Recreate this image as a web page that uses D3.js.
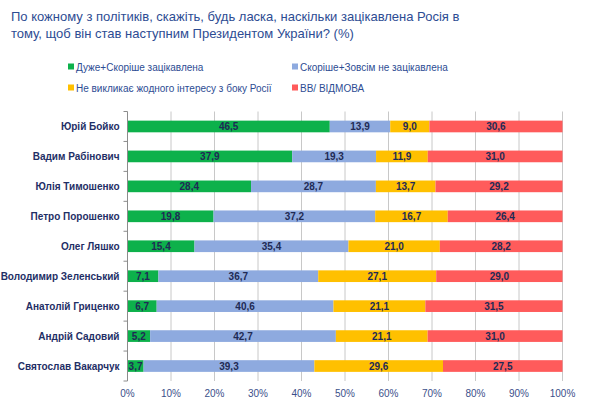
<!DOCTYPE html>
<html>
<head>
<meta charset="utf-8">
<script src="https://cdn.jsdelivr.net/npm/d3@7"></script>
<style>
  body { margin: 0; background: #fff; }
  svg { display: block; font-family: "Liberation Sans", Arial, sans-serif; }
</style>
</head>
<body>
<div id="chart"></div>
<script>
var names = ["Юрій Бойко", "Вадим Рабінович", "Юлія Тимошенко", "Петро Порошенко", "Олег Ляшко",
             "Володимир Зеленський", "Анатолій Гриценко", "Андрій Садовий", "Святослав Вакарчук"];
var interested    = [46.5, 37.9, 28.4, 19.8, 15.4, 7.1, 6.7, 5.2, 3.7];
var notInterested = [13.9, 19.3, 28.7, 37.2, 35.4, 36.7, 40.6, 42.7, 39.3];
var noInterest    = [9.0, 11.9, 13.7, 16.7, 21.0, 27.1, 21.1, 21.1, 29.6];
var refused       = [30.6, 31.0, 29.2, 26.4, 28.2, 29.0, 31.5, 31.0, 27.5];
var seriesNames = ["Дуже+Скоріше зацікавлена", "Скоріше+Зовсім не зацікавлена",
                   "Не викликає жодного інтересу з боку Росії", "ВВ/ ВІДМОВА"];
var xTicks = [0, 0.1, 0.2, 0.3, 0.4, 0.5, 0.6, 0.7, 0.8, 0.9, 1];
var titleLines = ["По кожному з політиків, скажіть, будь ласка, наскільки зацікавлена Росія в",
                  "тому, щоб він став наступним Президентом України? (%)"];

var colors = ["#0db14b", "#8eaadf", "#ffc000", "#ff5b5b"];
var keys = ["a", "b", "c", "d"];

var W = 600, H = 398;
var margin = {top: 111.5, left: 127.5, right: 37.5, bottom: 17},
    width  = W - margin.left - margin.right,
    height = H - margin.top - margin.bottom;

var table = names.map(function(n, i) {
  return {name: n, a: interested[i], b: notInterested[i], c: noInterest[i], d: refused[i]};
});

var stack = d3.stack().keys(keys).offset(d3.stackOffsetExpand);
var layers = stack(table);

var x = d3.scaleLinear().domain([0, 1]).range([0, width]);
var y = d3.scaleBand().domain(names).range([0, height]).paddingInner(0.61).paddingOuter(0.305);

var svg = d3.select("#chart").append("svg").attr("width", W).attr("height", H);

// title
svg.append("g").selectAll("text")
  .data(titleLines).enter().append("text")
    .attr("x", 11)
    .attr("y", function(d, i) { return 21 + i * 17; })
    .attr("fill", "#2d4c93")
    .style("font-size", "13px")
    .text(function(d) { return d; });

// legend
var legend = svg.append("g").selectAll("g")
  .data(seriesNames).enter().append("g")
    .attr("transform", function(d, i) {
      return "translate(" + (i % 2 ? 292 : 68) + "," + (i < 2 ? 67 : 88) + ")";
    });
legend.append("rect").attr("x", 0).attr("y", -3.5).attr("width", 6).attr("height", 6)
    .attr("fill", function(d, i) { return colors[i]; });
legend.append("text").attr("x", 8).attr("y", 3.6)
    .attr("fill", "#2d4c93").style("font-size", "10px")
    .text(function(d) { return d; });

var g = svg.append("g").attr("transform", "translate(" + margin.left + "," + margin.top + ")");

// grid
g.append("g").selectAll("line")
  .data(xTicks.slice(1)).enter().append("line")
    .attr("x1", function(d) { return x(d); }).attr("x2", function(d) { return x(d); })
    .attr("y1", 0).attr("y2", height)
    .attr("stroke", "#c8c8c8").attr("stroke-width", 1);

// bars
var fmt = d3.format(".1f");
var layer = g.selectAll(".layer")
  .data(layers).enter().append("g")
    .attr("class", "layer")
    .attr("fill", function(d, i) { return colors[i]; });

layer.selectAll("rect")
  .data(function(d) { return d; }).enter().append("rect")
    .attr("x", function(d) { return x(d[0]); })
    .attr("y", function(d) { return y(d.data.name); })
    .attr("width", function(d) { return x(d[1]) - x(d[0]); })
    .attr("height", y.bandwidth());

layer.selectAll("text")
  .data(function(d) { return d.map(function(p) { p.key = d.key; return p; }); }).enter().append("text")
    .attr("x", function(d) { return (x(d[0]) + x(d[1])) / 2; })
    .attr("y", function(d) { return y(d.data.name) + y.bandwidth() / 2; })
    .attr("dy", "0.36em")
    .attr("text-anchor", "middle")
    .attr("fill", "#1f2a55")
    .style("font-size", "10px").style("font-weight", "bold")
    .text(function(d) { return fmt(d.data[d.key]).replace(".", ","); });

// y axis
var step = y.step();
var bounds = d3.range(names.length + 1).map(function(i) { return i * step; });
g.append("line").attr("x1", 0).attr("x2", 0).attr("y1", 0).attr("y2", height)
    .attr("stroke", "#8c8c8c");
g.append("g").selectAll("line").data(bounds).enter().append("line")
    .attr("x1", -4).attr("x2", 0)
    .attr("y1", function(d) { return d; }).attr("y2", function(d) { return d; })
    .attr("stroke", "#8c8c8c");

g.append("g").selectAll("text").data(names).enter().append("text")
    .attr("x", -8)
    .attr("y", function(d) { return y(d) + y.bandwidth() / 2; })
    .attr("dy", "0.36em")
    .attr("text-anchor", "end")
    .attr("fill", "#1f2f66")
    .style("font-size", "10px").style("font-weight", "bold")
    .text(function(d) { return d; });

// x axis labels
g.append("g").selectAll("text").data(xTicks).enter().append("text")
    .attr("x", function(d) { return x(d); })
    .attr("y", height + 16)
    .attr("text-anchor", "middle")
    .attr("fill", "#3b4f8a")
    .style("font-size", "10px")
    .text(function(d) { return Math.round(d * 100) + "%"; });
</script>
</body>
</html>
